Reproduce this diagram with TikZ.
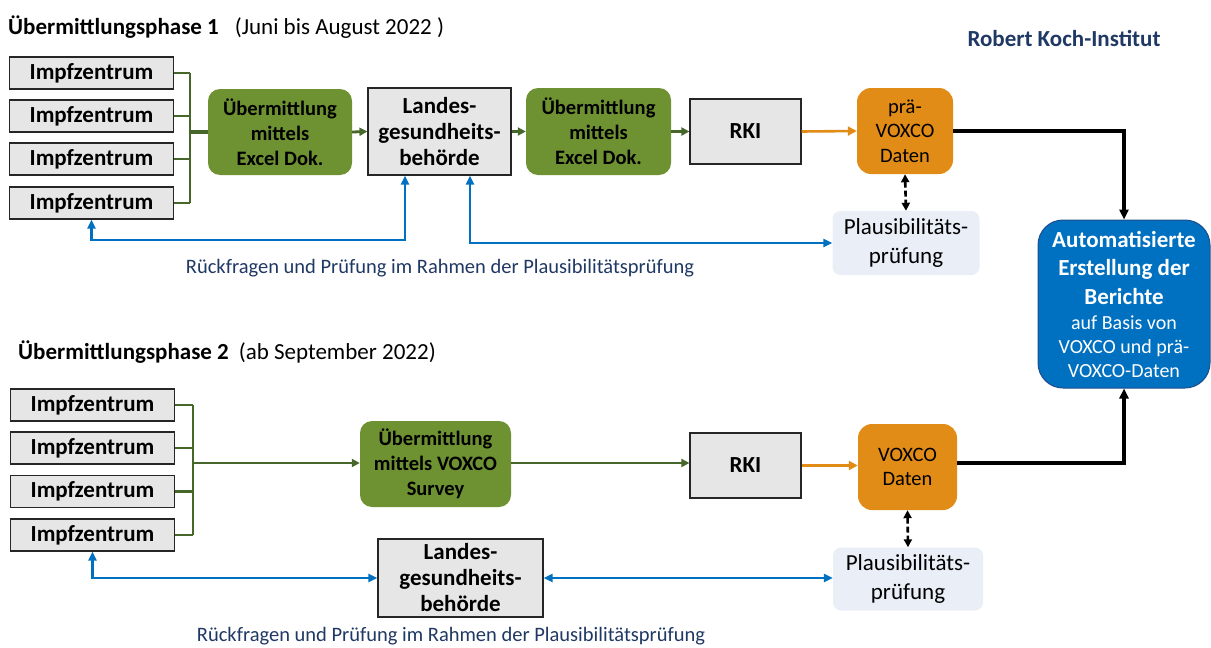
\documentclass[tikz,border=0pt]{standalone}
\usepackage{fontspec}
\setmainfont{Carlito}
\usetikzlibrary{arrows.meta,positioning}

\definecolor{boxgray}{RGB}{230,230,230}
\definecolor{olivefill}{RGB}{110,145,50}
\definecolor{olivedark}{RGB}{70,102,42}
\definecolor{dataorange}{RGB}{226,140,24}
\definecolor{linkblue}{RGB}{0,112,192}
\definecolor{autoborder}{RGB}{30,78,140}
\definecolor{navy}{RGB}{31,56,100}
\definecolor{plausfill}{RGB}{233,238,247}

\tikzset{
  izbox/.style={draw=black!85, line width=1.2pt, fill=boxgray, minimum width=164pt, minimum height=32pt,
    inner sep=0pt, font=\bfseries\fontsize{23}{26}\selectfont},
  graybox/.style={draw=black!85, line width=1.2pt, fill=boxgray, inner sep=0pt, align=center,
    font=\bfseries\fontsize{23}{26}\selectfont},
  greenbox/.style={fill=olivefill, rounded corners=12pt, inner sep=0pt, align=center,
    font=\bfseries\fontsize{20.5}{25}\selectfont},
  databox/.style={fill=dataorange, rounded corners=14pt, inner sep=0pt, align=center,
    font=\fontsize{20.5}{24.5}\selectfont},
  plausbox/.style={fill=plausfill, rounded corners=8pt, inner sep=0pt, align=center,
    font=\fontsize{23}{29}\selectfont},
  autobox/.style={fill=linkblue, draw=autoborder, line width=1pt, rounded corners=25pt, inner sep=0pt,
    align=center, text=white, font=\bfseries\fontsize{23}{28.5}\selectfont},
  greenline/.style={olivedark, line width=2.8pt},
  greenarrow/.style={olivedark, line width=2.8pt, -{Triangle[length=8pt,width=8pt]}},
  orangearrow/.style={dataorange, line width=2.6pt, -{Triangle[length=9pt,width=9pt]}},
  blackarrow/.style={black, line width=3.4pt, -{Triangle[length=10pt,width=9pt]}},
  dasharrow/.style={black, line width=2.6pt, dash pattern=on 6pt off 3pt,
    {Triangle[length=8pt,width=8pt]}-{Triangle[length=8pt,width=8pt]}},
  bluearrow/.style={linkblue, line width=2.8pt, {Triangle[length=9pt,width=8pt]}-{Triangle[length=9pt,width=8pt]}},
  phasetitle/.style={anchor=west, inner sep=0pt, font=\fontsize{23}{26}\selectfont},
  note/.style={inner sep=0pt, text=navy, font=\fontsize{20.5}{24}\selectfont}
}

\begin{document}
\begin{tikzpicture}[x=1pt,y=-1pt]
\useasboundingbox (0,0) rectangle (1211,648);

% Phase 1
\node[phasetitle] (title1) at (8,27) {\textbf{Übermittlungsphase 1}\hspace{16pt}(Juni bis August 2022 )};
\node[inner sep=0pt, text=navy, font=\bfseries\fontsize{23}{26}\selectfont] (rki) at (1064,38) {Robert Koch-Institut};

\node[izbox] (iz1) at (91.5,73) {Impfzentrum};
\node[izbox] (iz2) at (91.5,116) {Impfzentrum};
\node[izbox] (iz3) at (91.5,159) {Impfzentrum};
\node[izbox] (iz4) at (91.5,203) {Impfzentrum};

\node[greenbox, minimum width=144pt, minimum height=86pt] (excelA) at (280,132) {Übermittlung\\mittels\\Excel Dok.};
\node[graybox, minimum width=143pt, minimum height=87pt] (lgbA) at (439.5,131.5) {Landes-\\gesundheits-\\behörde};
\node[greenbox, minimum width=145pt, minimum height=87pt] (excelB) at (598.5,131.5) {Übermittlung\\mittels\\Excel Dok.};
\node[graybox, minimum width=111pt, minimum height=65pt] (rkiA) at (745.5,131.5) {RKI};
\node[databox, minimum width=96pt, minimum height=86pt] (praevoxco) at (905,131) {prä-\\VOXCO\\Daten};
\node[plausbox, minimum width=147pt, minimum height=64pt] (plausA) at (906,243) {Plausibilitäts-\\prüfung};

\coordinate (forkA) at (190,132);
\foreach \i in {1,...,4}
  \draw[greenline] (iz\i.east) -- (iz\i.east -| forkA);
\draw[greenline] (iz1.east -| forkA) -- (iz4.east -| forkA);
\draw[olivedark, line width=3.6pt] (forkA) -- (excelA.west);
\draw[greenarrow] (excelA.east) -- (lgbA.west);
\draw[greenarrow] (lgbA.east) -- (excelB.west);
\draw[greenarrow] (excelB.east) -- (rkiA.west);
\draw[orangearrow] (rkiA.east) -- (praevoxco.west);
\draw[dasharrow] (praevoxco.south) -- (plausA.north);

\coordinate (backA) at (405,240);
\coordinate (backB) at (470,242);
\draw[bluearrow] (iz4.south) |- (backA) -- (backA |- lgbA.south);
\draw[bluearrow] (backB |- lgbA.south) |- (plausA.west);
\node[note] (noteA) at (440,268) {Rückfragen und Prüfung im Rahmen der Plausibilitätsprüfung};

% Berichte
\node[autobox, minimum width=172pt, minimum height=168pt] (auto) at (1124,304)
  {Automatisierte\\Erstellung der\\Berichte\\[-3.5pt]
   {\mdseries\fontsize{20}{24}\selectfont auf Basis von}\\[-4.5pt]
   {\mdseries\fontsize{20}{24}\selectfont VOXCO und prä-}\\[-4.5pt]
   {\mdseries\fontsize{20}{24}\selectfont VOXCO-Daten}};

% Phase 2
\node[phasetitle] (title2) at (18,352) {\textbf{Übermittlungsphase 2}\hspace{10pt}(ab September 2022)};

\node[izbox] (iz5) at (92.5,405) {Impfzentrum};
\node[izbox] (iz6) at (92.5,448) {Impfzentrum};
\node[izbox] (iz7) at (92.5,491.5) {Impfzentrum};
\node[izbox] (iz8) at (92.5,535) {Impfzentrum};

\node[greenbox, minimum width=151pt, minimum height=86pt] (survey) at (435.5,464) {Übermittlung\\mittels VOXCO\\Survey};
\node[graybox, minimum width=111pt, minimum height=65pt] (rkiB) at (745.5,465.5) {RKI};
\node[databox, minimum width=99pt, minimum height=86pt] (voxco) at (907.5,467) {VOXCO\\Daten};
\node[plausbox, minimum width=150pt, minimum height=63pt] (plausB) at (908,579) {Plausibilitäts-\\prüfung};
\node[graybox, minimum width=165pt, minimum height=78pt] (lgbB) at (460.5,578) {Landes-\\gesundheits-\\behörde};

\coordinate (forkB) at (193,463);
\foreach \i in {5,...,8}
  \draw[greenline] (iz\i.east) -- (iz\i.east -| forkB);
\draw[greenline] (iz5.east -| forkB) -- (iz8.east -| forkB);
\draw[greenarrow] (forkB) -- (survey.west |- forkB);
\draw[greenarrow] (survey.east |- forkB) -- (rkiB.west |- forkB);
\draw[orangearrow] (rkiB.east) -- (voxco.west |- rkiB.east);
\draw[dasharrow] (voxco.south) -- (plausB.north);

\draw[bluearrow] (iz8.south) |- (lgbB.west);
\draw[bluearrow] (lgbB.east) -- (plausB.west |- lgbB.east);
\node[note] (noteB) at (451,636) {Rückfragen und Prüfung im Rahmen der Plausibilitätsprüfung};

\draw[blackarrow] (praevoxco.east) -| (auto.north);
\draw[blackarrow] (voxco.east |- forkB) -| (auto.south);
\end{tikzpicture}
\end{document}
